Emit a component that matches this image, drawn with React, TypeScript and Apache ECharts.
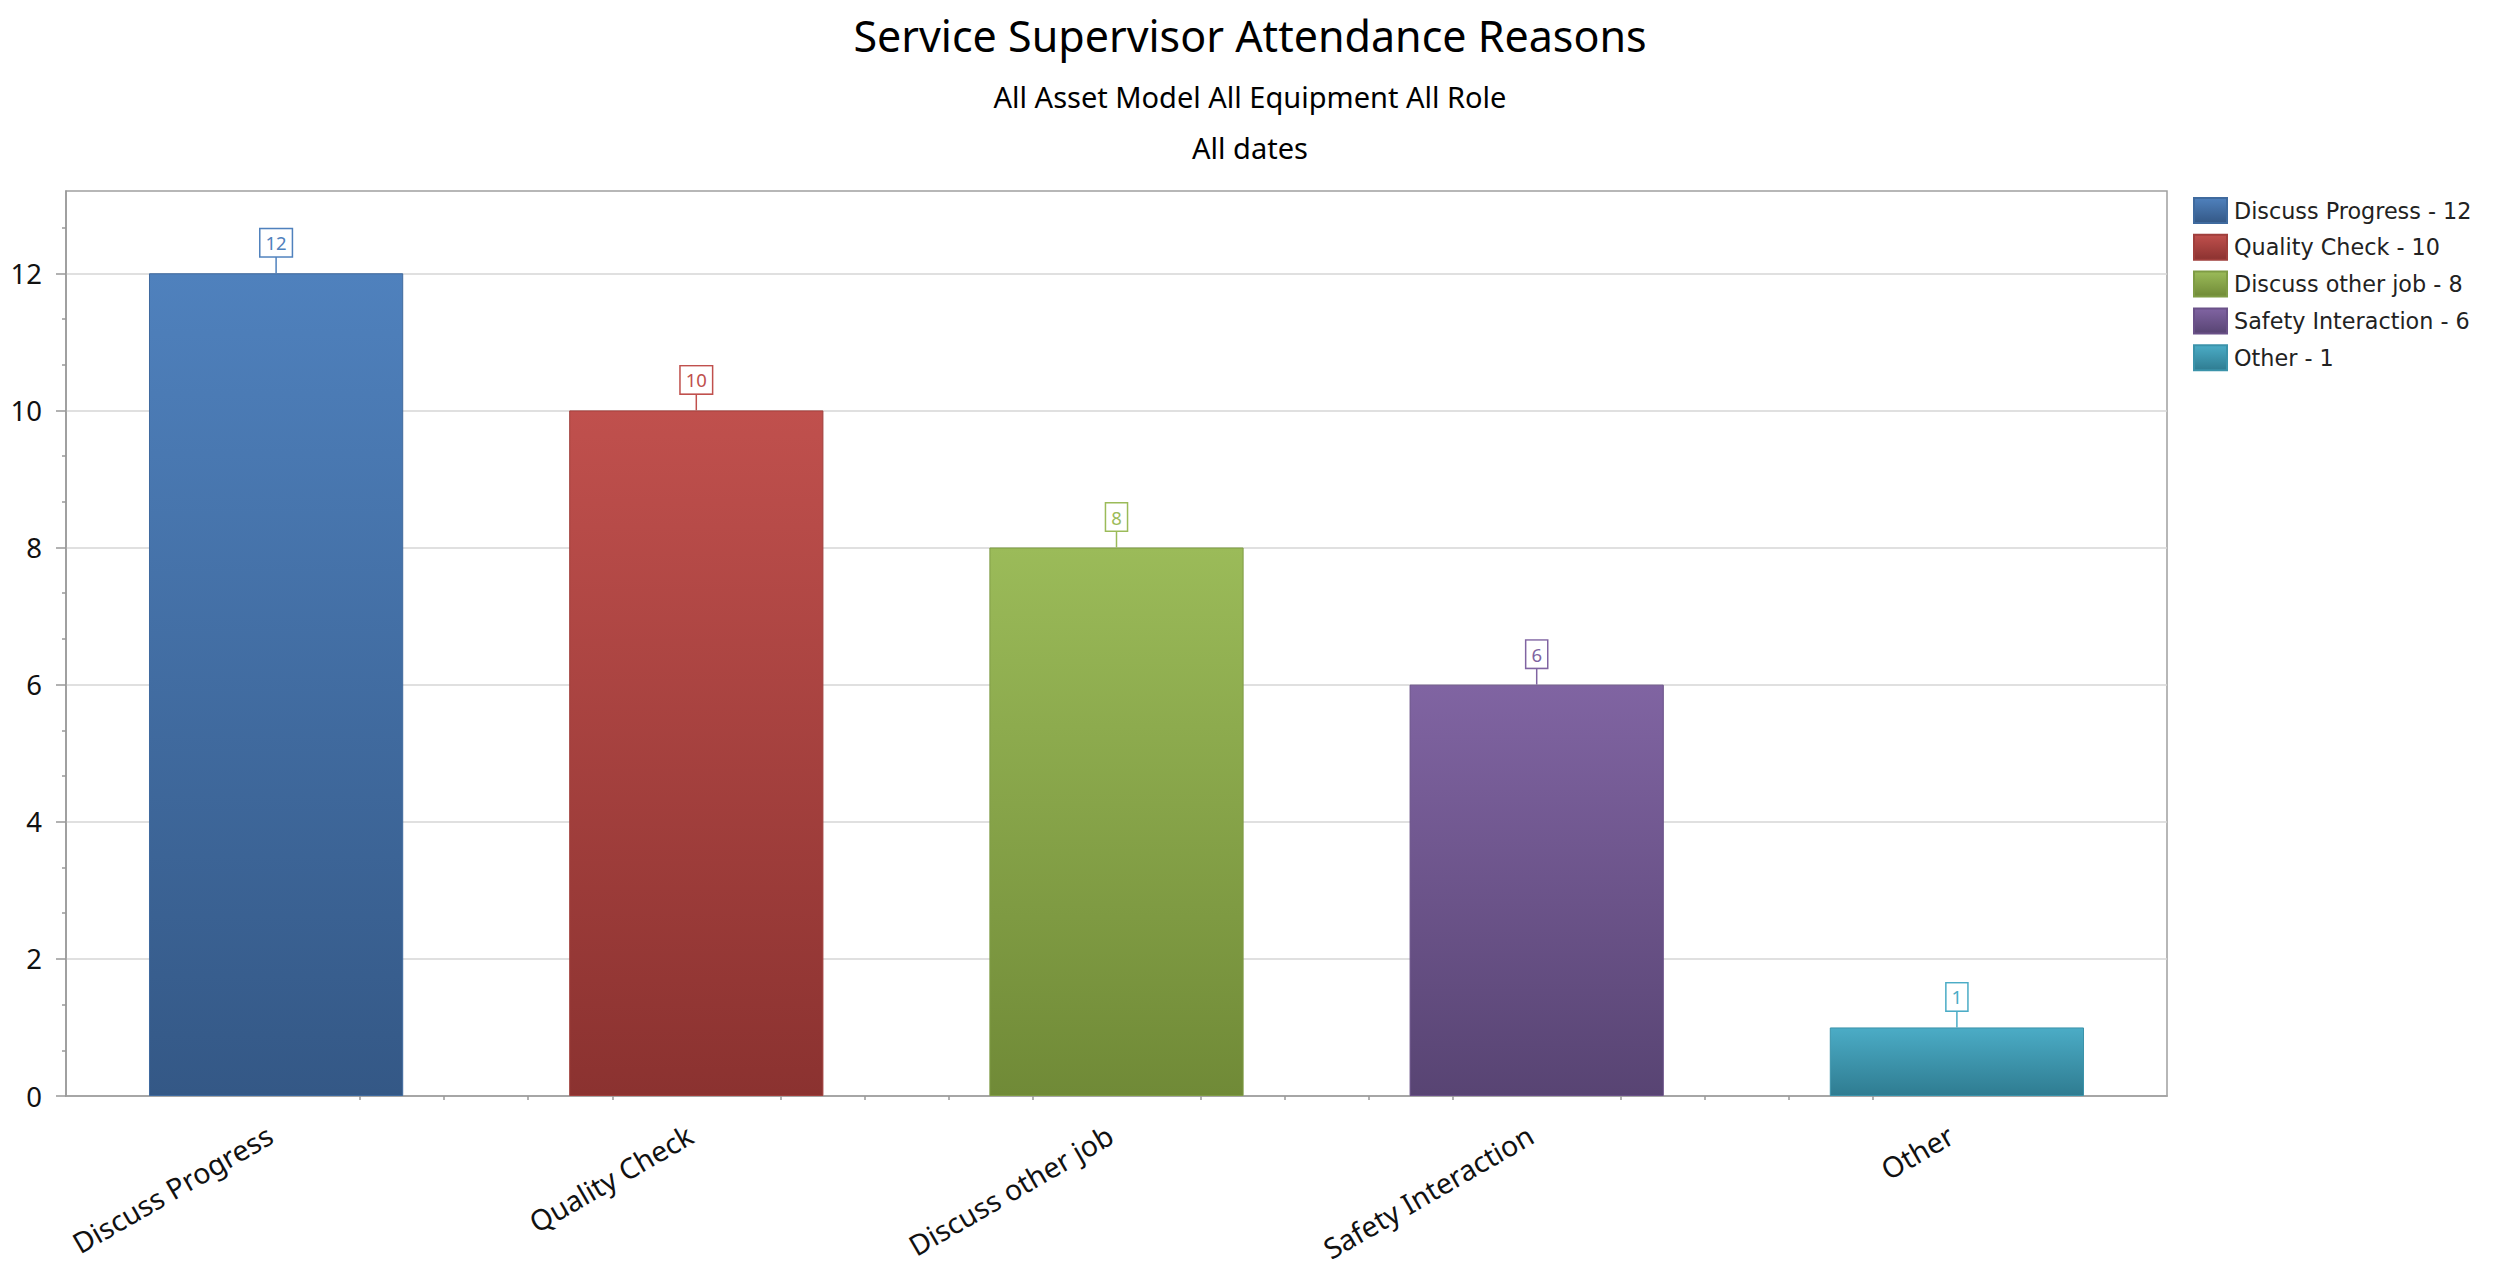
import React, { useEffect, useRef } from "react";
import * as echarts from "echarts";

const categories = ["Discuss Progress", "Quality Check", "Discuss other job", "Safety Interaction", "Other"];
const values = [12, 10, 8, 6, 1];
const topColors = ["#4f81bd", "#c0504d", "#9bbb59", "#8064a2", "#4bacc6"];
const bottomColors = ["#345886", "#8b3230", "#708a37", "#584473", "#2f7c91"];
const edgeColors = ["#3f6a9e", "#a03f3c", "#7f9c45", "#6a5188", "#3b93aa"];
const yTickValues = [0, 2, 4, 6, 8, 10, 12];
const yMax = 13.2;
const titleText = "Service Supervisor Attendance Reasons";
const subtitle1 = "All Asset Model All Equipment All Role";
const subtitle2 = "All dates";

const yMinorTicks: number[] = [];
for (let i = 0; i < 20; i++) {
  const v = (i * 2) / 3;
  if (i % 3 !== 0 && v < yMax) yMinorTicks.push(v);
}
const xMinorTicks: number[] = [];
for (let i = 0; i < categories.length - 1; i++) {
  for (let k = 1; k <= 4; k++) xMinorTicks.push(2.5 + 5 * i + k);
}

export default function App() {
  const ref = useRef<HTMLDivElement>(null);
  useEffect(() => {
    if (!ref.current) return;
    const chart = echarts.init(ref.current, null, { renderer: "svg" });
    const grad = (i: number) =>
      new echarts.graphic.LinearGradient(0, 0, 0, 1, [
        { offset: 0, color: topColors[i] },
        { offset: 1, color: bottomColors[i] },
      ]);
    const barSeries = categories.map((c, i) => ({
      type: "bar",
      name: `${c} - ${values[i]}`,
      stack: "all",
      barCategoryGap: "39.5%",
      data: values.map((v, j) => (j === i ? v : "-")),
      itemStyle: { color: grad(i), borderColor: edgeColors[i], borderWidth: 1 },
      emphasis: { disabled: true },
    }));
    const labelSeries = {
      type: "custom",
      z: 10,
      silent: true,
      data: values.map((v, i) => [i, v]),
      renderItem: (params: any, api: any) => {
        const idx = params.dataIndex;
        const p = api.coord([api.value(0), api.value(1)]);
        const c = topColors[idx];
        return {
          type: "group",
          children: [
            {
              type: "line",
              shape: { x1: p[0], y1: p[1], x2: p[0], y2: p[1] - 17 },
              style: { stroke: c, lineWidth: 1.5 },
            },
            {
              type: "text",
              x: p[0],
              y: p[1] - 17,
              style: {
                text: String(values[idx]),
                fill: c,
                fontSize: 18.5,
                fontFamily: "Noto Sans",
                align: "center",
                verticalAlign: "bottom",
                backgroundColor: "#ffffff",
                borderColor: c,
                borderWidth: 1.5,
                padding: [4, 5, 4, 5],
              },
            },
          ],
        };
      },
    };
    chart.setOption({
      animation: false,
      backgroundColor: "#ffffff",
      title: [
        { text: titleText, left: "center", top: 9, textStyle: { fontFamily: "Noto Sans", fontSize: 43, fontWeight: "normal", color: "#000" } },
        { text: subtitle1, left: "center", top: 77, textStyle: { fontFamily: "Noto Sans", fontSize: 29, fontWeight: "normal", color: "#000" } },
        { text: subtitle2, left: "center", top: 128, textStyle: { fontFamily: "Noto Sans", fontSize: 29, fontWeight: "normal", color: "#000" } },
      ],
      legend: {
        orient: "vertical",
        left: 2193,
        top: 197,
        padding: 0,
        itemWidth: 33,
        itemHeight: 25,
        itemGap: 9.8,
        icon: "rect",
        selectedMode: false,
        data: categories.map((c, i) => `${c} - ${values[i]}`),
        textStyle: { fontFamily: "DejaVu Sans", fontSize: 22.3, lineHeight: 25, color: "#222", padding: [0, 0, 0, 2] },
      },
      grid: {
        left: 66,
        top: 191,
        right: 333,
        bottom: 175,
        show: true,
        borderColor: "#a0a0a0",
        borderWidth: 1.5,
      },
      xAxis: [
        {
          type: "category",
          data: categories,
          position: "bottom",
          axisLine: { lineStyle: { color: "#999", width: 1.5 } },
          axisTick: { alignWithLabel: true, length: 9, interval: 0, lineStyle: { color: "#999", width: 1.5 } },
          axisLabel: { rotate: 30, margin: 33, interval: 0, padding: [0, 7, 0, 0], fontFamily: "Noto Sans", fontSize: 28.5, color: "#111" },
          splitLine: { show: false },
        },
        {
          type: "value",
          min: 0,
          max: 25,
          position: "bottom",
          axisLine: { show: false },
          axisLabel: { show: false },
          splitLine: { show: false },
          axisTick: { show: true, length: 4, customValues: xMinorTicks, lineStyle: { color: "#999", width: 1.5 } },
        },
      ],
      yAxis: [
        {
          type: "value",
          min: 0,
          max: yMax,
          interval: 2,
          position: "left",
          axisLine: { show: true, lineStyle: { color: "#999", width: 1.5 } },
          axisTick: { show: true, length: 10, customValues: yTickValues, lineStyle: { color: "#999", width: 1.5 } },
          axisLabel: { customValues: yTickValues, margin: 24, fontFamily: "Noto Sans", fontSize: 27.5, color: "#111" },
          splitLine: { show: true, lineStyle: { color: "#d6d6d6", width: 1.5 } },
        },
        {
          type: "value",
          min: 0,
          max: yMax,
          position: "left",
          axisLine: { show: false },
          axisLabel: { show: false },
          splitLine: { show: false },
          axisTick: { show: true, length: 4, customValues: yMinorTicks, lineStyle: { color: "#999", width: 1.5 } },
        },
      ],
      series: [...barSeries, labelSeries],
    });
    return () => chart.dispose();
  }, []);
  return <div ref={ref} style={{ position: "fixed", left: 0, top: 0, width: 2500, height: 1271 }} />;
}
